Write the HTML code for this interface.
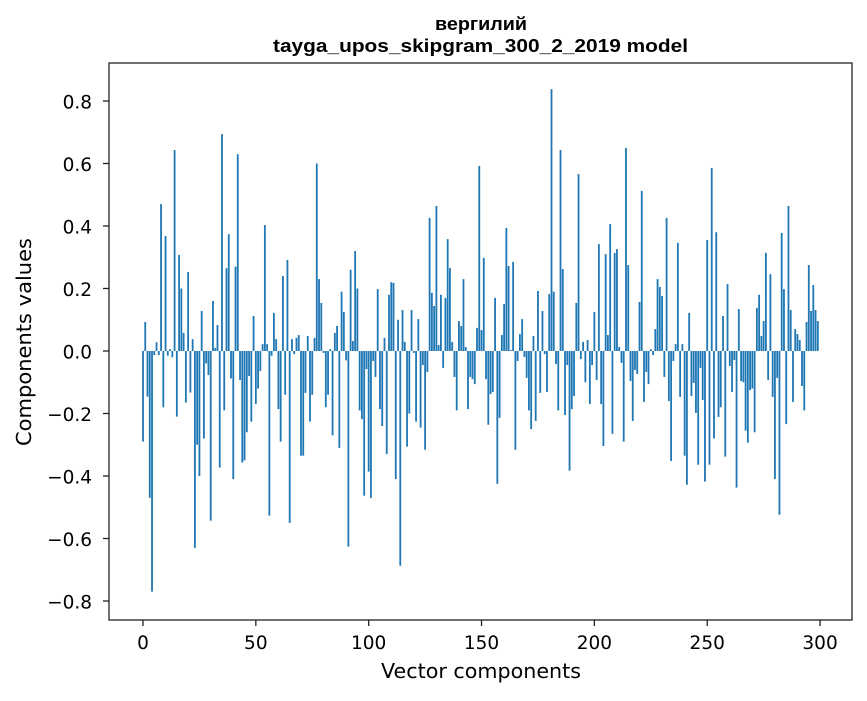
<!DOCTYPE html>
<html><head><meta charset="utf-8">
<style>
html,body{margin:0;padding:0;background:#fff;}
svg text{font-family:"DejaVu Sans","Liberation Sans",sans-serif;fill:#000;}
svg text.title{font-family:"Liberation Sans","DejaVu Sans",sans-serif;}
</style></head>
<body>
<svg id="chart" width="867" height="696" xmlns="http://www.w3.org/2000/svg">
<text class="title" x="481" y="30" text-anchor="middle" font-size="18" font-weight="bold" textLength="92" lengthAdjust="spacingAndGlyphs">вергилий</text>
<text class="title" x="480.5" y="52" text-anchor="middle" font-size="18" font-weight="bold" textLength="415" lengthAdjust="spacingAndGlyphs">tayga_upos_skipgram_300_2_2019 model</text>
<g id="bars"></g>
<g id="axes"></g>
<text x="481" y="678" text-anchor="middle" font-size="20.5" textLength="200" lengthAdjust="spacingAndGlyphs">Vector components</text>
<text transform="translate(31,342) rotate(-90)" text-anchor="middle" font-size="20.5" textLength="208" lengthAdjust="spacingAndGlyphs">Components values</text>
</svg>
<script>
const values = [
-0.29,0.093,-0.146,-0.47,-0.77,-0.013,0.028,-0.013,0.47,-0.18,
0.368,-0.015,0.006,-0.02,0.643,-0.21,0.307,0.2,0.058,-0.165,
0.253,-0.133,0.038,-0.63,-0.30,-0.40,0.128,-0.28,-0.04,-0.077,
-0.543,0.16,0.01,0.083,-0.373,0.694,-0.19,0.265,0.374,-0.088,
-0.41,0.27,0.63,-0.093,-0.357,-0.35,-0.26,-0.08,-0.226,0.112,
-0.17,-0.12,-0.064,0.022,0.403,0.022,-0.527,-0.015,0.122,0.038,
-0.186,-0.29,0.24,-0.14,0.291,-0.55,0.038,-0.01,0.042,0.051,
-0.335,-0.335,-0.134,0.048,-0.226,-0.14,0.042,0.60,0.23,0.154,
-0.006,-0.18,-0.14,0.006,-0.27,0.058,0.08,-0.31,0.19,0.125,
-0.03,-0.626,0.26,0.032,0.32,0.2,-0.19,-0.218,-0.463,-0.058,
-0.386,-0.47,-0.032,-0.083,0.198,-0.186,-0.24,0.042,-0.33,0.18,
0.22,0.218,-0.41,0.1,-0.687,0.131,0.029,-0.306,-0.2,0.131,
-0.006,-0.226,0.102,-0.245,-0.045,-0.316,-0.067,0.426,0.186,0.144,
0.464,0.019,0.18,-0.054,0.17,0.358,0.266,0.029,-0.083,-0.19,
0.096,0.08,0.23,0.013,-0.186,-0.083,-0.09,-0.106,0.074,0.592,
0.067,0.298,-0.09,-0.236,-0.138,-0.131,0.17,-0.425,-0.214,0.051,
0.15,0.394,0.272,0.003,0.285,-0.316,-0.032,0.054,0.102,-0.019,
-0.086,-0.19,-0.25,0.048,-0.224,0.192,-0.134,0.128,-0.01,-0.131,
0.182,0.838,0.19,-0.042,-0.19,0.643,0.262,-0.205,-0.045,-0.383,
-0.186,-0.144,0.154,0.566,-0.026,0.029,-0.1,0.035,-0.17,-0.045,
0.125,-0.093,0.342,-0.17,-0.304,0.31,0.051,0.406,-0.265,0.314,
0.326,0.013,-0.038,-0.29,0.65,0.275,-0.096,-0.224,-0.061,-0.074,
0.157,0.512,-0.163,-0.067,-0.106,0.006,-0.013,0.07,0.23,0.205,
0.176,-0.083,0.426,-0.16,-0.352,-0.032,0.022,0.346,-0.147,0.022,
-0.335,-0.428,0.122,-0.144,-0.102,-0.198,-0.364,-0.054,-0.157,-0.418,
0.355,-0.364,0.586,-0.28,0.38,-0.211,-0.18,0.112,-0.338,0.214,
-0.048,-0.131,-0.029,-0.437,0.134,-0.096,-0.1,-0.255,-0.293,-0.125,
-0.12,-0.26,0.138,0.18,0.048,0.096,0.314,-0.093,0.246,-0.147,
-0.41,-0.086,-0.524,0.378,0.198,-0.234,0.464,0.131,-0.163,0.07,
0.054,0.035,-0.112,-0.19,0.093,0.275,0.128,0.211,0.131,0.096
];
const xTicks = [0,50,100,150,200,250,300];
const yTicks = [-0.8,-0.6,-0.4,-0.2,0.0,0.2,0.4,0.6,0.8];

const NS = "http://www.w3.org/2000/svg";
const L=109,R=852,T=63,B=620;
const xMin=-15.06, xMax=314.15, yMin=-0.8608, yMax=0.9216;
function sx(v){return L+(v-xMin)/(xMax-xMin)*(R-L);}
function sy(v){return B-(v-yMin)/(yMax-yMin)*(B-T);}
const bars=document.getElementById('bars');
values.forEach((v,i)=>{
  const r=document.createElementNS(NS,'rect');
  const x0=sx(i-0.4), x1=sx(i+0.4);
  const y0=sy(Math.max(v,0)), y1=sy(Math.min(v,0));
  r.setAttribute('x',x0);r.setAttribute('width',x1-x0);
  r.setAttribute('y',y0);r.setAttribute('height',Math.max(y1-y0,0));
  r.setAttribute('fill','#1f77b4');
  
  
  bars.appendChild(r);
});
const axes=document.getElementById('axes');
const frame=document.createElementNS(NS,'rect');
frame.setAttribute('x',L);frame.setAttribute('y',T);frame.setAttribute('width',R-L);frame.setAttribute('height',B-T);
frame.setAttribute('fill','none');frame.setAttribute('stroke','#222');frame.setAttribute('stroke-width','1.3');


axes.appendChild(frame);
xTicks.forEach(t=>{
  const x=sx(t);
  const ln=document.createElementNS(NS,'line');
  ln.setAttribute('x1',x);ln.setAttribute('x2',x);ln.setAttribute('y1',B);ln.setAttribute('y2',B+6);
  ln.setAttribute('stroke','#222');ln.setAttribute('stroke-width','1.3');
  
  
  axes.appendChild(ln);
  const tx=document.createElementNS(NS,'text');
  tx.setAttribute('x',x);tx.setAttribute('y',B+29);tx.setAttribute('text-anchor','middle');tx.setAttribute('font-size','18.5');
  tx.textContent=String(t);
  
  
  axes.appendChild(tx);
});
yTicks.forEach(t=>{
  const y=sy(t);
  const ln=document.createElementNS(NS,'line');
  ln.setAttribute('x1',L-6);ln.setAttribute('x2',L);ln.setAttribute('y1',y);ln.setAttribute('y2',y);
  ln.setAttribute('stroke','#222');ln.setAttribute('stroke-width','1.3');
  
  
  axes.appendChild(ln);
  const tx=document.createElementNS(NS,'text');
  tx.setAttribute('x',L-17);tx.setAttribute('y',y+7.5);tx.setAttribute('text-anchor','end');tx.setAttribute('font-size','18.5');
  tx.textContent=(t<0?'\u2212':'')+Math.abs(t).toFixed(1);
  
  
  axes.appendChild(tx);
});
</script>
</body></html>
